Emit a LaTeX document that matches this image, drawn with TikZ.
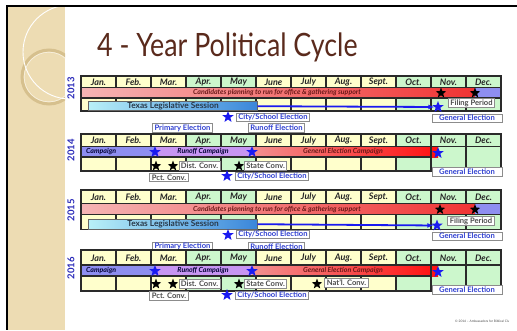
\documentclass[tikz,border=0pt]{standalone}
\usepackage{fontspec}
\setmainfont{Lato}
\usetikzlibrary{shapes.geometric,arrows.meta}
\definecolor{cellY}{HTML}{FFFFCC}
\definecolor{cellG}{HTML}{CCF7CC}
\definecolor{gridc}{HTML}{2A2A2A}
\definecolor{titlec}{HTML}{5A2A1C}
\definecolor{yearc}{HTML}{2626B8}
\definecolor{boxblue}{HTML}{2F3FD0}
\definecolor{pinkL}{HTML}{F5B5B5}
\definecolor{redR}{HTML}{F03333}
\definecolor{pinkM}{HTML}{F29090}
\definecolor{redF}{HTML}{FF1010}
\definecolor{lav}{HTML}{8E8EF0}
\definecolor{violetc}{HTML}{C795F2}
\definecolor{candtext}{HTML}{6A1818}
\definecolor{stripc}{HTML}{EDDCB3}
\definecolor{ringc}{HTML}{D6C08E}
\definecolor{texL}{HTML}{B8F0F8}
\definecolor{texR}{HTML}{3A86DA}
\definecolor{texT}{HTML}{283848}
\definecolor{starblue}{HTML}{1A1AF0}
\newcommand\calfill[5]{%
  \foreach \i/\m/\c in {0/Jan./cellY,1/Feb./cellY,2/Mar./cellY,3/Apr./cellG,4/May/cellG,5/June/cellY,6/July/cellY,7/Aug./cellY,8/Sept./cellY,9/Oct./cellG,10/Nov./cellG,11/Dec./cellG}{%
    \fill[\c] ({81+35*\i},#1) rectangle ({116+35*\i},#4);
    \node[month] (#5m\i) at ({98.5+35*\i},{(#1+#2)/2+0.3}) {\m};
  }%
}
\newcommand\calgrid[5]{%
  \foreach \i in {1,...,11}{%
    \draw[gridline] ({81+35*\i},#1) -- ({81+35*\i},#2);
    \draw[gridline] ({81+35*\i},#3) -- ({81+35*\i},#4);
  }%
  \draw[gridline] (81,#2) -- (501,#2);
  \draw[gridline] (81,#3) -- (#5,#3);
  \draw[gridline] (81,#1) rectangle (501,#4);
}
\begin{document}
\begin{tikzpicture}[x=1pt,y=-1pt,
  month/.style={font=\bfseries\itshape\fontsize{9}{9}\selectfont, text=black!85, inner sep=0},
  gridline/.style={draw=gridc, line width=1.3pt},
  lbox/.style={draw=black!45, fill=white, line width=0.8pt, inner xsep=2pt, inner ysep=0.4pt, minimum height=8.5pt, font=\bfseries\fontsize{7.6}{7.6}\selectfont},
  bluebox/.style={lbox, text=boxblue},
  graybox/.style={lbox, text=black!70},
  bstar/.style={star, star points=5, star point ratio=2.4, fill=starblue, minimum size=12pt, inner sep=0},
  kstar/.style={star, star points=5, star point ratio=2.4, fill=black, minimum size=11pt, inner sep=0},
  yearlbl/.style={rotate=90, font=\bfseries\fontsize{9.5}{9.5}\selectfont, text=yearc, inner sep=0},
  barlbl/.style={font=\bfseries\itshape\fontsize{7}{7}\selectfont, text=candtext, inner sep=0},
  texlbl/.style={font=\bfseries\fontsize{8.3}{8.3}\selectfont, text=texT, inner sep=0},
  bar/.style={inner sep=0, anchor=west},
  texbar/.style={draw=black!60, line width=0.6pt, left color=texL, right color=texR, inner sep=0, anchor=south west, minimum width=169pt, minimum height=9pt},
  bluearrow/.style={draw=starblue, line width=1.8pt, -{Latex[length=6pt,width=5pt]}}
]
\useasboundingbox (0,0) rectangle (517,330);
% decorative strip
\fill[stripc] (8,6) rectangle (65,330);
\begin{scope}
  \clip (8,6) rectangle (65,330);
  \draw[ringc, line width=3pt] (49,77) circle (27);
  \draw[white!60!stripc, line width=0.6pt] (49,77) circle (24.8);
  \draw[white, line width=0.9pt] (70,52) circle (47);
\end{scope}
\draw[black, line width=2.2pt] (7,6) -- (517,6);
\draw[black, line width=2pt] (7,5) -- (7,330);
% title
\node[anchor=base west, inner sep=0, text=titlec, font=\fontsize{26.8}{30}\selectfont] (title) at (97,56) {\scalebox{1}[1.2]{4 - Year Political Cycle}};
% year labels
\node[yearlbl] (y2013) at (71,88) {2013};
\node[yearlbl] (y2014) at (71,150) {2014};
\node[yearlbl] (y2015) at (71,210) {2015};
\node[yearlbl] (y2016) at (71,268) {2016};

%% ===== 2013 =====
\calfill{76}{87.5}{98}{111}{a}
\node[bar, left color=pinkL, right color=redR, minimum width=394pt, minimum height=10.5pt] (cand1) at (81,92.75) {};
\node[barlbl] (cand1t) at (277,93) {Candidates planning to run for office \& gathering support};
\node[bar, fill=lav, minimum width=26pt, minimum height=10.5pt] (fil1) at (475,92.75) {};
\calgrid{76}{87.5}{98}{111}{501}
\node[texbar] (tex1) at (88,111) {};
\node[texlbl] (tex1t) at (173,106.5) {Texas Legislative Session};
\node[bstar] (gen1s) at (438,107) {};
\draw[bluearrow] (tex1.east) -- (gen1s);
\node[kstar] (k1a) at (441,93) {};
\node[kstar] (k1b) at (475,93) {};
\node[graybox] (filing1) at (471.5,103) {Filing Period};
\node[bstar] (city1s) at (228,117) {};
\node[bluebox, anchor=west] (city1) at (236,117.5) {City/School Election};
\node[bluebox, anchor=north west, minimum width=70pt] (gen1) at (431.5,113.5) {General Election};
\node[bluebox] (prim1) at (182.5,128) {Primary Election};
\node[bluebox] (run1) at (276.5,128) {Runoff Election};

%% ===== 2014 =====
\calfill{134}{146.5}{157}{171}{b}
\node[bar, fill=lav, minimum width=74pt, minimum height=10.5pt] (camp2) at (81,151.75) {};
\node[barlbl, anchor=west, text=black!80!blue] (camp2t) at (86,152) {Campaign};
\node[bar, fill=violetc, minimum width=97pt, minimum height=10.5pt] (run2b) at (155,151.75) {};
\node[barlbl, text=black!80!blue] (run2t) at (203,152) {Runoff Campaign};
\node[bar, left color=pinkM, right color=redF, minimum width=186pt, minimum height=10.5pt] (gec2) at (252,151.75) {};
\node[barlbl] (gec2t) at (343,152) {General Election Campaign};
\calgrid{134}{146.5}{157}{171}{431}
\draw[gridline] (431,146.5) -- (431,157);
\draw[gridline] (466,146.5) -- (466,157);
\node[bstar] (s2a) at (155,152) {};
\node[bstar] (s2b) at (252,152) {};
\node[bstar] (s2c) at (438,153) {};
\node[kstar] (k2a) at (156,166) {};
\node[kstar] (k2b) at (173,166) {};
\node[graybox] (dist2) at (199.5,166) {Dist. Conv.};
\node[graybox] (pct2) at (169,177.5) {Pct. Conv.};
\node[kstar] (k2c) at (239,166) {};
\node[graybox, anchor=west] (state2) at (244,166) {State Conv.};
\node[bstar] (city2s) at (227,176) {};
\node[bluebox, anchor=west] (city2) at (235,176.5) {City/School Election};
\node[bluebox, anchor=north west, minimum width=70pt] (gen2) at (431.5,167) {General Election};

%% ===== 2015 =====
\calfill{190}{203.5}{214.5}{229.5}{c}
\node[bar, left color=pinkL, right color=redR, minimum width=394pt, minimum height=11pt] (cand3) at (81,209) {};
\node[barlbl] (cand3t) at (277,209.2) {Candidates planning to run for office \& gathering support};
\node[bar, fill=lav, minimum width=26pt, minimum height=11pt] (fil3) at (475,209) {};
\calgrid{190}{203.5}{214.5}{229.5}{501}
\node[texbar, minimum height=10pt] (tex3) at (88,229.5) {};
\node[texlbl] (tex3t) at (173,224.5) {Texas Legislative Session};
\node[bstar] (gen3s) at (437,225.5) {};
\draw[bluearrow] (tex3.east) -- (gen3s);
\node[kstar] (k3a) at (440,209.5) {};
\node[kstar] (k3b) at (475,209.5) {};
\node[graybox] (filing3) at (471,221) {Filing Period};
\node[bstar] (city3s) at (228,235) {};
\node[bluebox, anchor=west] (city3) at (236,234.5) {City/School Election};
\node[bluebox, anchor=north west, minimum width=70pt] (gen3) at (431.5,231.5) {General Election};
\node[bluebox] (prim3) at (182.5,246.5) {Primary Election};
\node[bluebox] (run3) at (276.5,246.5) {Runoff Election};

%% ===== 2016 =====
\calfill{250}{265}{276}{291}{d}
\node[bar, fill=lav, minimum width=74pt, minimum height=11pt] (camp4) at (81,270.5) {};
\node[barlbl, anchor=west, text=black!80!blue] (camp4t) at (86,270.7) {Campaign};
\node[bar, fill=violetc, minimum width=97pt, minimum height=11pt] (run4b) at (155,270.5) {};
\node[barlbl, text=black!80!blue] (run4t) at (203,270.7) {Runoff Campaign};
\node[bar, left color=pinkM, right color=redF, minimum width=186pt, minimum height=11pt] (gec4) at (252,270.5) {};
\node[barlbl] (gec4t) at (343,270.7) {General Election Campaign};
\calgrid{250}{265}{276}{291}{431}
\draw[gridline] (431,265) -- (431,276);
\draw[gridline] (466,265) -- (466,276);
\node[bstar] (s4a) at (155,271) {};
\node[bstar] (s4b) at (252,271) {};
\node[bstar] (s4c) at (438,272) {};
\node[kstar] (k4a) at (156,284) {};
\node[kstar] (k4b) at (173,284) {};
\node[graybox] (dist4) at (199.5,284) {Dist. Conv.};
\node[graybox] (pct4) at (169,296) {Pct. Conv.};
\node[kstar] (k4c) at (239,284) {};
\node[graybox, anchor=west] (state4) at (244,284) {State Conv.};
\node[kstar] (k4d) at (317,284) {};
\node[graybox] (natl4) at (346.5,283) {Nat'l. Conv.};
\node[bstar] (city4s) at (227,295) {};
\node[bluebox, anchor=west] (city4) at (235,295.5) {City/School Election};
\node[bluebox, anchor=north west, minimum width=70pt] (gen4) at (431.5,285) {General Election};

% footer
\node[anchor=west, inner sep=0, font=\fontsize{3.2}{3.2}\selectfont, text=black!70] (copy) at (455,321) {© 2016 – Ambassadors for Biblical Civ};
\end{tikzpicture}
\end{document}
